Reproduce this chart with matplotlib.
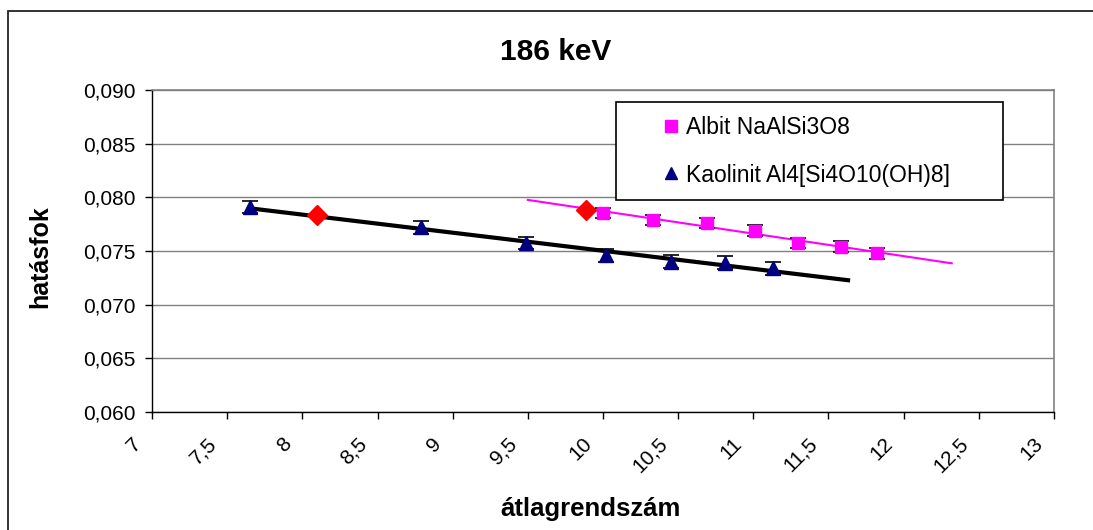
import numpy as np
import matplotlib
matplotlib.use("Agg")
import matplotlib.pyplot as plt
from matplotlib.patches import Rectangle
from matplotlib.lines import Line2D
from matplotlib.transforms import ScaledTranslation
from matplotlib.ticker import FuncFormatter, MultipleLocator

plt.rcParams['font.family'] = ['Liberation Sans', 'DejaVu Sans']

# ---- data ----
albit_x = [10.0, 10.33, 10.69, 11.01, 11.30, 11.58, 11.82]
albit_y = [0.07854, 0.0779, 0.0776, 0.0769, 0.07575, 0.0754, 0.0748]
albit_err = [0.0005, 0.0005, 0.0005, 0.0005, 0.0005, 0.0005, 0.0005]

kaol_x = [7.65, 8.79, 9.49, 10.02, 10.45, 10.81, 11.13]
kaol_y = [0.0791, 0.0772, 0.07575, 0.0746, 0.0740, 0.0739, 0.0734]
kaol_err = [0.0006, 0.0006, 0.0006, 0.0006, 0.0006, 0.0006, 0.0006]

red_x = [8.10, 9.89]
red_y = [0.07835, 0.0788]

x_ticks = [7, 7.5, 8, 8.5, 9, 9.5, 10, 10.5, 11, 11.5, 12, 12.5, 13]
x_ticklabels = ['7', '7,5', '8', '8,5', '9', '9,5', '10', '10,5', '11', '11,5', '12', '12,5', '13']

albit_label = "Albit NaAlSi3O8"
kaol_label = "Kaolinit Al4[Si4O10(OH)8]"
title = "186 keV"
xlabel = "átlagrendszám"
ylabel = "hatásfok"

# trendline extensions (backward, forward)
albit_ext = (0.5, 0.5)
kaol_ext = (0.0, 0.5)

W, H = 1093, 530
fig = plt.figure(figsize=(W / 100, H / 100), dpi=100)
ax = fig.add_axes([152 / W, 1 - 412 / H, (1054 - 152) / W, (412 - 90) / H])

# trendlines (linear fits)
for xs, ys, ext, col, lw in [(albit_x, albit_y, albit_ext, '#FF00FF', 1.5),
                              (kaol_x, kaol_y, kaol_ext, 'black', 3.0)]:
    p = np.polyfit(xs, ys, 1)
    tx = np.array([min(xs) - ext[0], max(xs) + ext[1]])
    ax.plot(tx, np.polyval(p, tx), color=col, lw=lw, zorder=2)

ax.errorbar(albit_x, albit_y, yerr=albit_err, fmt='s', color='#FF00FF', ms=9,
            ecolor='black', elinewidth=1, capsize=5.5, capthick=1.2, zorder=4)
ax.errorbar(kaol_x, kaol_y, yerr=kaol_err, fmt='^', color='#000080', ms=10,
            ecolor='black', elinewidth=1, capsize=5.5, capthick=1.2, zorder=4)
ax.plot(red_x, red_y, 'D', color='#FF0000', ms=10.5, zorder=3)

ax.set_xlim(7, 13)
ax.set_ylim(0.060, 0.090)
ax.set_xticks(x_ticks)
ax.yaxis.set_major_locator(MultipleLocator(0.005))
ax.yaxis.set_major_formatter(FuncFormatter(lambda v, p: ('%.3f' % v).replace('.', ',')))
ax.grid(axis='y', color='#808080', lw=1)
ax.set_axisbelow(True)
for s in ['top', 'right']:
    ax.spines[s].set_color('#808080')
    ax.spines[s].set_linewidth(1.2)
for s in ['left', 'bottom']:
    ax.spines[s].set_color('black')
    ax.spines[s].set_linewidth(1)
ax.tick_params(direction='out', length=5, width=1, labelsize=15, colors='black')
ax.tick_params(axis='y', pad=7)
ax.tick_params(axis='x', labelbottom=False)

# rotated x tick labels (Excel style placement)
off = ScaledTranslation(-14 / 100, -29 / 100, fig.dpi_scale_trans)
for xv, lab in zip(x_ticks, x_ticklabels):
    ax.text(xv, 0, lab, transform=ax.get_xaxis_transform() + off, rotation=45,
            rotation_mode='anchor', ha='right', va='center', fontsize=15)

fig.text(556 / W, 1 - 52 / H, title, fontsize=21.5, fontweight='bold', ha='center', va='center')
fig.text(591 / W, 1 - 509 / H, xlabel, fontsize=18.5, fontweight='bold', ha='center', va='center')
fig.text(40 / W, 1 - 257 / H, ylabel, fontsize=18, fontweight='bold', ha='center', va='center', rotation=90)

handles = [Line2D([], [], ls='none', marker='s', color='#FF00FF', ms=8),
           Line2D([], [], ls='none', marker='^', color='#000080', ms=9)]
leg = ax.legend(handles, [albit_label, kaol_label],
                loc='upper left', bbox_to_anchor=(616 / W, 1 - 193 / H, (1003 - 616) / W, (193 - 102) / H),
                bbox_transform=fig.transFigure, mode='expand', borderaxespad=0,
                fontsize=16.5, frameon=True, fancybox=False, edgecolor='black', framealpha=1,
                handlelength=3.58, handletextpad=-1.14, borderpad=0.6, labelspacing=1.08,
                numpoints=1)
leg.get_frame().set_linewidth(1.2)
leg.set_zorder(10)

# outer chart border
fig.patches.append(Rectangle((8 / W, -0.1), 1.2, 1 - 11 / H + 0.1, transform=fig.transFigure,
                             fill=False, edgecolor='#222222', lw=1.3))

fig.savefig('out.png', dpi=100)
